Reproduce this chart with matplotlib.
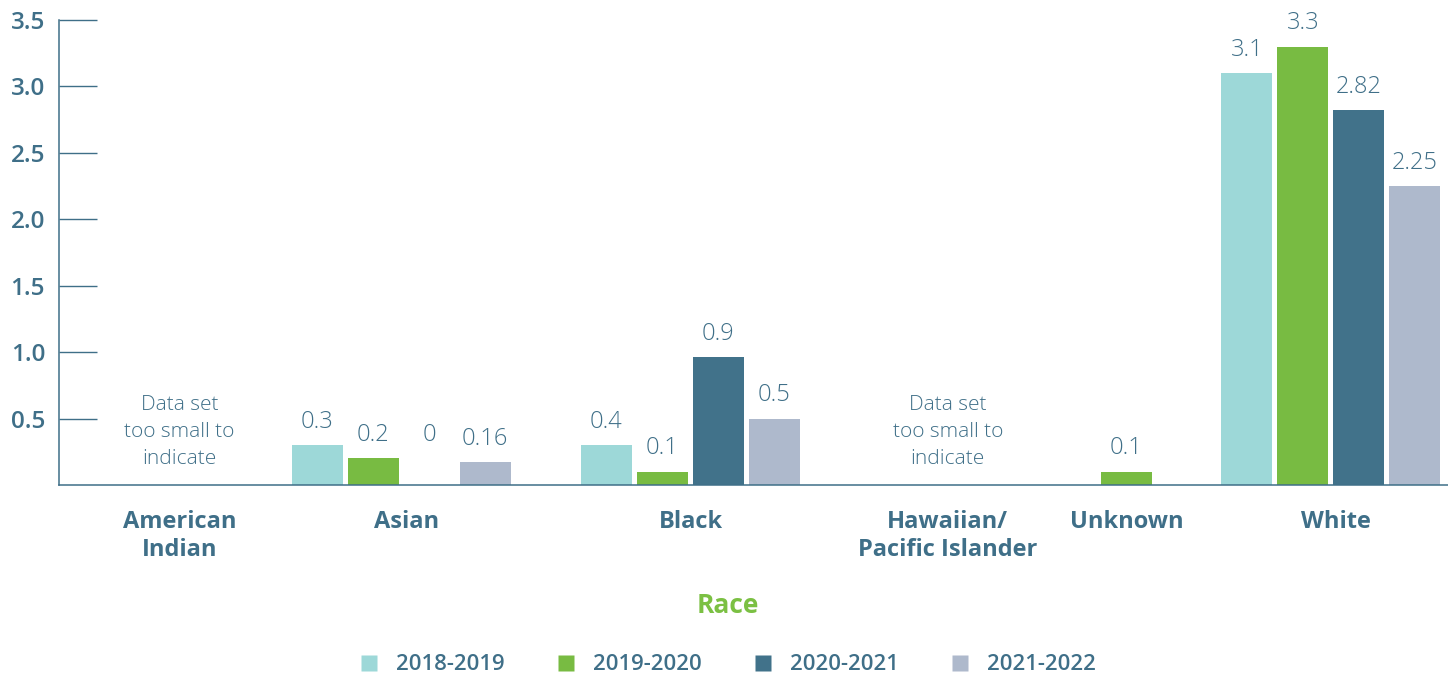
import matplotlib
matplotlib.use("Agg")
import matplotlib.pyplot as plt
from matplotlib.lines import Line2D
import matplotlib.transforms as mtransforms
import numpy as np

# ---------------- data ----------------
categories = ["American\nIndian", "Asian", "Black", "Hawaiian/\nPacific Islander", "Unknown", "White"]
series = ["2018-2019", "2019-2020", "2020-2021", "2021-2022"]
# bar heights as drawn (nan = no bar)
v_2018_2019 = [np.nan, 0.30, 0.30, np.nan, np.nan, 3.10]
v_2019_2020 = [np.nan, 0.20, 0.10, np.nan, 0.10, 3.30]
v_2020_2021 = [np.nan, 0.00, 0.96, np.nan, np.nan, 2.82]
v_2021_2022 = [np.nan, 0.17, 0.50, np.nan, np.nan, 2.25]
# value labels as printed
l_2018_2019 = ["", "0.3", "0.4", "", "", "3.1"]
l_2019_2020 = ["", "0.2", "0.1", "", "0.1", "3.3"]
l_2020_2021 = ["", "0", "0.9", "", "", "2.82"]
l_2021_2022 = ["", "0.16", "0.5", "", "", "2.25"]
note_text = "Data set\ntoo small to\nindicate"
note_categories = ["American\nIndian", "Hawaiian/\nPacific Islander"]
y_ticks = [0.5, 1.0, 1.5, 2.0, 2.5, 3.0, 3.5]
x_title = "Race"

# ---------------- layout / style ----------------
group_x = [2.15, 6.11, 11.27, 15.87, 19.56, 22.71]   # group centres (bar-step units)
label_x = [2.15, 6.20, 11.29, 15.87, 19.07, 22.80]   # category label centres
bar_w = 0.91
colors = ["#9dd8d8", "#78bb42", "#41728a", "#aeb9cc"]
txt = "#3f6f88"
FONT = "Open Sans"
plt.rcParams["font.family"] = [FONT, "DejaVu Sans"]

fig = plt.figure(figsize=(14.48, 6.75), dpi=100)
ax = fig.add_axes([59 / 1448, 190 / 675, 1389 / 1448, 465 / 675])
ax.set_xlim(0, 1389 / 56)
ax.set_ylim(0, 3.5)

values = [v_2018_2019, v_2019_2020, v_2020_2021, v_2021_2022]
labels = [l_2018_2019, l_2019_2020, l_2020_2021, l_2021_2022]
gx = np.array(group_x)
for i, (vals, labs) in enumerate(zip(values, labels)):
    xs = gx + (i - 1.5)
    ax.bar(xs, vals, width=bar_w, color=colors[i], label=series[i], zorder=2)

for j in range(len(categories)):
    for i in range(len(series)):
        lab = labels[i][j]
        if not lab:
            continue
        h = values[i][j]
        if h == 0 and i > 0:
            h = values[i - 1][j]
        ax.annotate(lab, (gx[j] + (i - 1.5), h), xytext=(0, 12.5), textcoords="offset points",
                    ha="center", va="baseline", fontsize=17, color=txt, fontweight="light")

for c in note_categories:
    j = categories.index(c)
    ax.text(group_x[j], 0.40, note_text, ha="center", va="center", fontsize=15,
            color=txt, linespacing=1.45, fontweight="light")

# category labels
trans = mtransforms.blended_transform_factory(ax.transData, ax.transAxes)
for x, c in zip(label_x, categories):
    ax.annotate(c, (x, 0), xycoords=trans, xytext=(0, -18), textcoords="offset points",
                ha="center", va="top", fontsize=17, fontweight="bold", color=txt,
                linespacing=1.25)

ax.set_xticks([])
ax.set_yticks(y_ticks)
ax.set_yticklabels([f"{t:.1f}" for t in y_ticks])
ax.tick_params(axis="y", direction="in", length=27.4, width=1.0, color=txt,
               labelsize=17.5, labelcolor=txt, pad=10)
for lab in ax.get_yticklabels():
    lab.set_fontweight("semibold")
for s in ["top", "right"]:
    ax.spines[s].set_visible(False)
for s in ["left", "bottom"]:
    ax.spines[s].set_color(txt)
    ax.spines[s].set_linewidth(1.1)

fig.text(727.5 / 1448, 62 / 675, x_title, ha="center", va="baseline", fontsize=19,
         fontweight="bold", color="#7bc043")

handles = [Line2D([], [], marker="s", linestyle="none", markersize=11.5,
                  markerfacecolor=colors[i], markeredgecolor="none") for i in range(4)]
leg = fig.legend(handles, series, loc="center", bbox_to_anchor=(727 / 1448, 10 / 675),
                 ncol=4, frameon=False, handlelength=1.0, handletextpad=0.7,
                 columnspacing=2.3, prop={"size": 15.9, "weight": "semibold"},
                 labelcolor=txt, borderaxespad=0, borderpad=0)

fig.savefig("out.png", dpi=100)
